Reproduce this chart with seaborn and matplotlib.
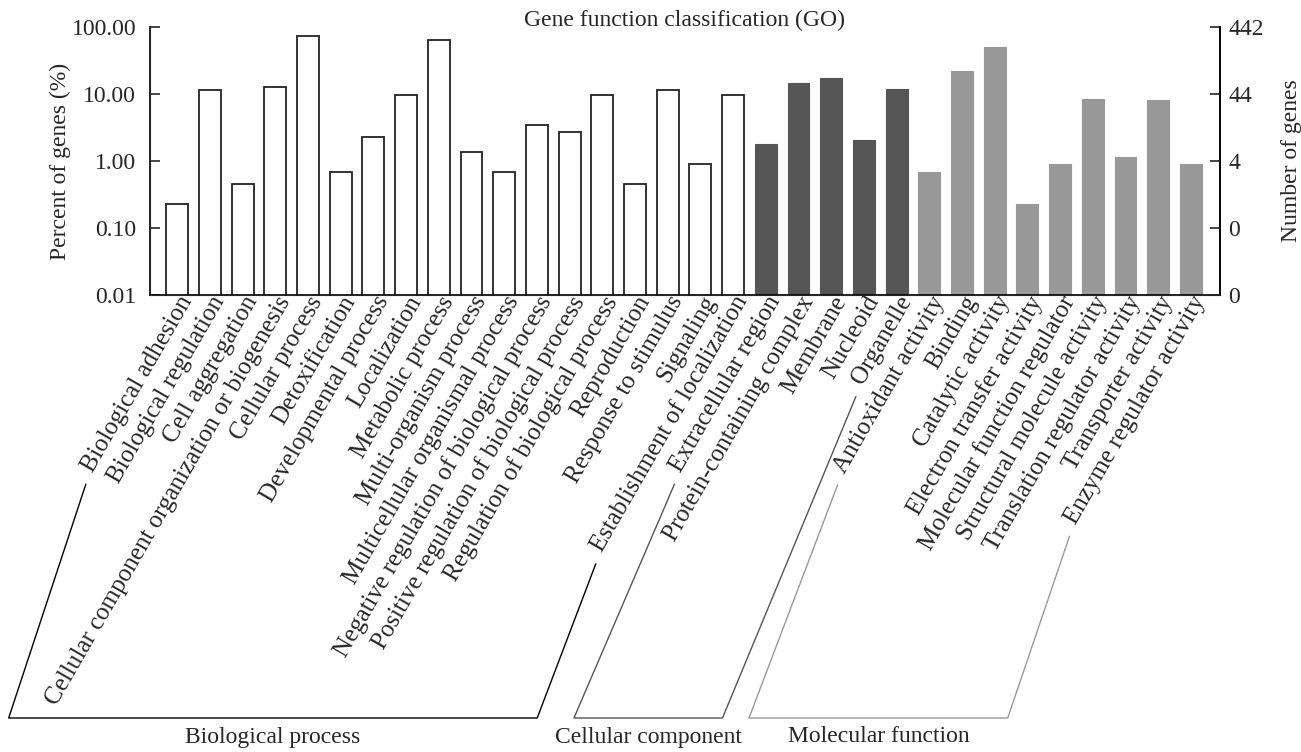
import numpy as np
import pandas as pd
import matplotlib
matplotlib.use("Agg")
import matplotlib.pyplot as plt
import matplotlib.transforms as mtransforms
import seaborn as sns
from matplotlib.lines import Line2D
from matplotlib.ticker import FixedLocator, NullLocator

# GO terms per category
bp_terms = ["Biological adhesion", "Biological regulation", "Cell aggregation",
            "Cellular component organization or biogenesis", "Cellular process",
            "Detoxification", "Developmental process", "Localization",
            "Metabolic process", "Multi-organism process",
            "Multicellular organismal process",
            "Negative regulation of biological process",
            "Positive regulation of biological process",
            "Regulation of biological process", "Reproduction",
            "Response to stimulus", "Signaling", "Establishment of localization"]
cc_terms = ["Extracellular region", "Protein-containing complex", "Membrane",
            "Nucleoid", "Organelle"]
mf_terms = ["Antioxidant activity", "Binding", "Catalytic activity",
            "Electron transfer activity", "Molecular function regulator",
            "Structural molecule activity", "Translation regulator activity",
            "Transporter activity", "Enzyme regulator activity"]

# number of genes
bp_counts = [1, 51, 2, 56, 320, 3, 10, 43, 287, 6, 3, 15, 12, 42, 2, 51, 4, 43]
cc_counts = [8, 64, 77, 9, 52]
mf_counts = [3, 96, 226, 1, 4, 37, 5, 36, 4]
total_genes = 442

group_names = ["Biological process", "Cellular component", "Molecular function"]
bar_colors = ["#ffffff", "#555555", "#999999"]
bracket_colors = ["#000000", "#555555", "#999999"]
# lean of the bracket sides (dx per dy), left and right side of each group
bracket_lean = [(0.33, 0.38), (0.43, 0.415), (0.38, 0.34)]
y_ticks = [0.01, 0.1, 1, 10, 100]

df = pd.DataFrame({
    'term': bp_terms + cc_terms + mf_terms,
    'count': bp_counts + cc_counts + mf_counts,
    'group': [group_names[0]] * len(bp_terms) + [group_names[1]] * len(cc_terms)
             + [group_names[2]] * len(mf_terms),
})
df['percent'] = df['count'] / total_genes * 100

sns.set_style("ticks")
plt.rcParams['font.family'] = ['Liberation Serif', 'DejaVu Serif']
plt.rcParams['font.size'] = 17

fig = plt.figure(figsize=(13.01, 7.52), dpi=100)
ax = fig.add_axes([150 / 1301, 457 / 752, 1070 / 1301, 268 / 752])

sns.barplot(data=df, x='term', y='percent', hue='group', hue_order=group_names,
            palette=dict(zip(group_names, bar_colors)), dodge=False, width=0.67,
            saturation=1, legend=False, ax=ax)

for p in ax.patches:
    fc = p.get_facecolor()
    if fc[0] > 0.95:
        p.set_edgecolor('#222222')
        p.set_linewidth(1.3)
    else:
        p.set_edgecolor(fc)
        p.set_linewidth(0.8)

ax.set_yscale('log')
ax.set_ylim(0.01, 100)
ax.set_xlim(-0.83, len(df) - 0.11)
ax.yaxis.set_major_locator(FixedLocator(y_ticks))
ax.yaxis.set_minor_locator(NullLocator())
ax.set_yticklabels([f"{t:.2f}" for t in y_ticks])
ax.set_xlabel('')
ax.set_ylabel('Percent of genes (%)', labelpad=0)
ax.tick_params(axis='y', direction='in', length=7, width=1.2, pad=10)
ax.tick_params(axis='x', direction='in', length=5, width=1.0, pad=2)
shift = mtransforms.ScaledTranslation(10 / 100, 0, fig.dpi_scale_trans)
for lbl in ax.get_xticklabels():
    lbl.set_rotation(60)
    lbl.set_ha('right')
    lbl.set_va('center')
    lbl.set_rotation_mode('anchor')
    lbl.set_fontsize(18)
    lbl.set_transform(lbl.get_transform() + shift)
ax.spines['top'].set_visible(False)
for s in ['left', 'bottom', 'right']:
    ax.spines[s].set_linewidth(1.2)
    ax.spines[s].set_color('black')
ax.set_title('Gene function classification (GO)', y=1.0, pad=0.5, fontsize=17)

# right axis: number of genes
ax2 = ax.twinx()
ax2.set_yscale('log')
ax2.set_ylim(ax.get_ylim())
ax2.yaxis.set_major_locator(FixedLocator(y_ticks))
ax2.yaxis.set_minor_locator(NullLocator())
ax2.set_yticklabels([str(int(t * total_genes / 100)) for t in y_ticks])
ax2.set_ylabel('Number of genes', labelpad=12)
ax2.tick_params(axis='y', direction='in', length=7, width=1.2, pad=6)
ax2.spines['top'].set_visible(False)
ax2.spines['right'].set_linewidth(1.2)
ax2.spines['right'].set_color('black')

# group brackets under the rotated labels
fig.canvas.draw()
renderer = fig.canvas.get_renderer()
labels = ax.get_xticklabels()
th = np.deg2rad(60)
c, s = np.cos(th), np.sin(th)


def label_start(lbl):
    bb = lbl.get_window_extent(renderer)
    h = (c * bb.height - s * bb.width) / (c * c - s * s)
    return bb.x0 + h * s - 11, bb.y0 - 8


y_bottom = 34
sizes = [len(bp_terms), len(cc_terms), len(mf_terms)]
start = 0
for name, n, col, (k1, k2) in zip(group_names, sizes, bracket_colors, bracket_lean):
    x1, y1 = label_start(labels[start])
    x2, y2 = label_start(labels[start + n - 1])
    bx1 = x1 - (y1 - y_bottom) * k1
    bx2 = x2 - (y2 - y_bottom) * k2
    pts = np.array([[x1, y1], [bx1, y_bottom], [bx2, y_bottom], [x2, y2]])
    pts = fig.transFigure.inverted().transform(pts)
    fig.add_artist(Line2D(pts[:, 0], pts[:, 1], color=col, lw=1.0,
                          transform=fig.transFigure))
    cx = (bx1 + bx2) / 2
    fig.text(cx / 1301, 15 / 752, name, ha='center', va='center', fontsize=17)
    start += n

fig.savefig('out.png', dpi=100)
